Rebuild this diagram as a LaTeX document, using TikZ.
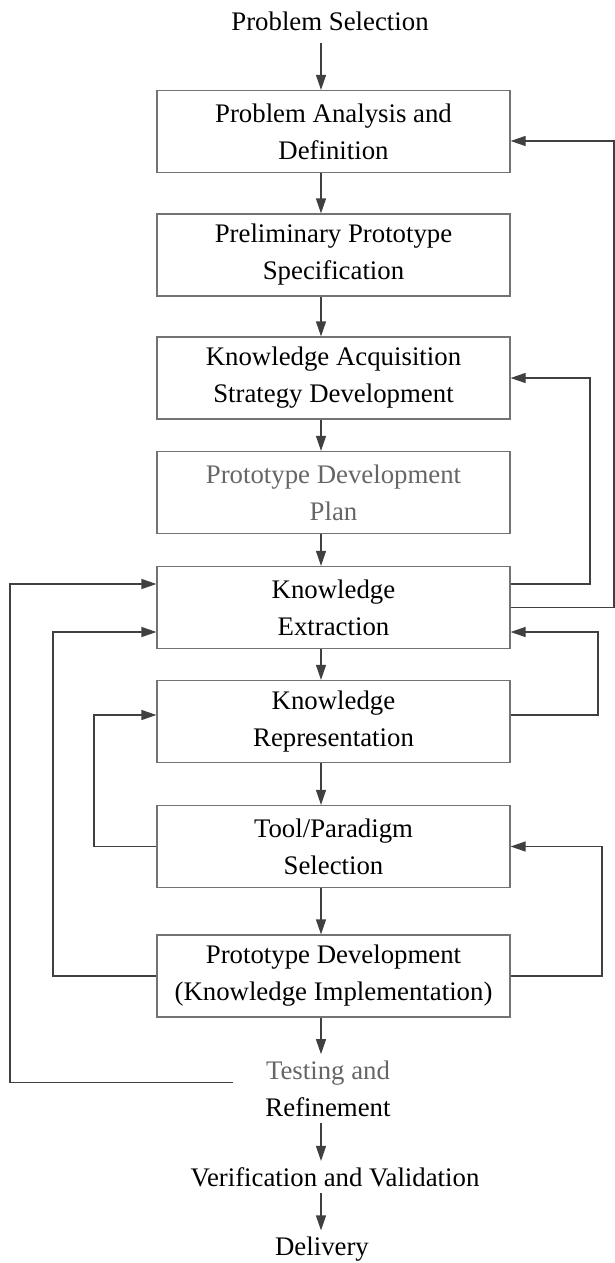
\documentclass[tikz,border=0pt]{standalone}
\usepackage{fontspec}
\setmainfont{Liberation Serif}
\usetikzlibrary{arrows.meta}

\begin{document}
\begin{tikzpicture}[x=0.5pt, y=-0.5pt,
        stage/.style={draw=black!55, line width=0.6pt, minimum width=176.5pt, minimum height=41pt, align=center, inner sep=2pt, font=\fontsize{13.4}{18.5}\selectfont},
        endtext/.style={inner sep=3pt, align=center, font=\fontsize{13.4}{18.5}\selectfont},
        flow/.style={draw=black!75, line width=0.6pt, -{Triangle[length=7.5pt,width=5pt]}}]

        \useasboundingbox (0,0) rectangle (615,1263);

        % Start
        \node at (330,21) [endtext, inner ysep=6pt] (ps) {Problem Selection};

        % Stages
        \node at (333.5,131.5) [stage] (b1) {Problem Analysis and\\Definition};
        \node at (333.5,255) [stage] (b2) {Preliminary Prototype\\Specification};
        \node at (333.5,378) [stage] (b3) {Knowledge Acquisition\\Strategy Development};
        \node at (333.5,492.5) [stage, text=black!60] (b4) {Prototype Development\\Plan};
        \node at (333.5,607.5) [stage] (b5) {Knowledge\\Extraction};
        \node at (333.5,721.5) [stage] (b6) {Knowledge\\Representation};
        \node at (333.5,846.5) [stage] (b7) {Tool/Paradigm\\Selection};
        \node at (333.5,976) [stage] (b8) {Prototype Development\\(Knowledge Implementation)};

        % End
        \node at (328,1088.5) [endtext] (tst) {{\color{black!60}Testing and}\\Refinement};
        \node at (335,1177) [endtext] (vv) {Verification and Validation};
        \node at (322,1249) [endtext] (del) {Delivery};

        % Columns and ports
        \coordinate (ax) at (321,0);
        \coordinate (xA) at (614,0);
        \coordinate (xB) at (590,0);
        \coordinate (xC) at (598,0);
        \coordinate (xD) at (602,0);
        \coordinate (xE) at (94,0);
        \coordinate (xF) at (53,0);
        \coordinate (xG) at (10,0);
        \coordinate (b1in) at ([yshift=-4.75pt]b1.east);
        \coordinate (b5rin) at ([yshift=-12.25pt]b5.east);
        \coordinate (b5lo) at ([yshift=-12.25pt]b5.west);
        \coordinate (b5hi) at ([yshift=11.75pt]b5.west);
        \coordinate (b6lin) at ([yshift=3.25pt]b6.west);
        \coordinate (tstout) at ([xshift=-13pt,yshift=3.2pt]tst.west);

        % Main flow
        \foreach \a/\b in {ps/b1, b1/b2, b2/b3, b3/b4, b4/b5, b5/b6, b6/b7, b7/b8, b8/tst, tst/vv, vv/del}
            \draw [flow] (\a.south -| ax) -- (\b.north -| ax);

        % Feedback, right side
        \draw [flow] (b5.east) -| (xA |- b1in) -- (b1in);
        \draw [flow] ([yshift=11.75pt]b5.east) -| (xB |- b3.east) -- (b3.east);
        \draw [flow] ([yshift=3.25pt]b6.east) -| (xC |- b5rin) -- (b5rin);
        \draw [flow] (b8.east) -| (xD |- b7.east) -- (b7.east);

        % Feedback, left side
        \draw [flow] (b7.west) -| (xE |- b6lin) -- (b6lin);
        \draw [flow] (b8.west) -| (xF |- b5lo) -- (b5lo);
        \draw [flow] (tstout) -| (xG |- b5hi) -- (b5hi);

\end{tikzpicture}
\end{document}
